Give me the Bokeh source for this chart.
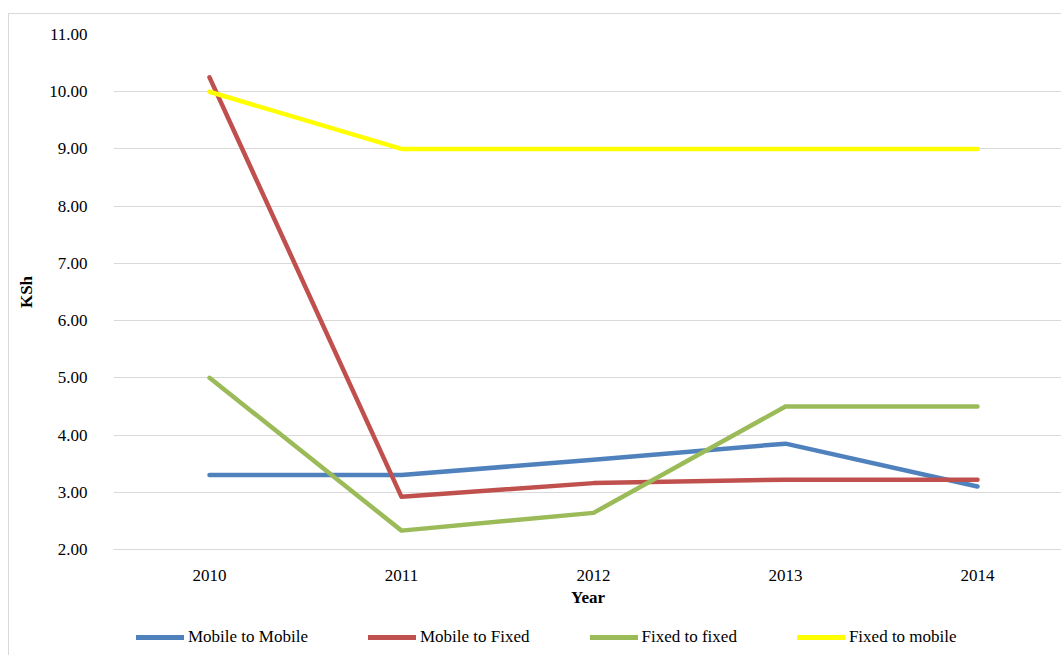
from bokeh.plotting import figure
from bokeh.layouts import column
from bokeh.models import FixedTicker, PrintfTickFormatter, Range1d, Legend, LegendItem
from bokeh.embed import file_html
from bokeh.resources import INLINE

years = [2010, 2011, 2012, 2013, 2014]
mobile_to_mobile = [3.30, 3.30, 3.57, 3.85, 3.10]
mobile_to_fixed = [10.25, 2.92, 3.16, 3.22, 3.22]
fixed_to_fixed = [5.00, 2.33, 2.64, 4.50, 4.50]
fixed_to_mobile = [10.00, 9.00, 9.00, 9.00, 9.00]
series_names = ["Mobile to Mobile", "Mobile to Fixed", "Fixed to fixed", "Fixed to mobile"]
series_values = [mobile_to_mobile, mobile_to_fixed, fixed_to_fixed, fixed_to_mobile]
colors = ["#4F81BD", "#C0504D", "#9BBB59", "#FFFF00"]
y_ticks = [2, 3, 4, 5, 6, 7, 8, 9, 10, 11]

FONT = "Liberation Serif"

p = figure(width=1053, height=600, output_backend="svg", toolbar_location=None,
           x_range=Range1d(2009.5, 2009.5 + 949 / 192), y_range=Range1d(2, 11),
           min_border_left=104, min_border_top=20, min_border_bottom=65, min_border_right=0)
p.outline_line_color = None
p.background_fill_color = "white"
p.border_fill_color = "white"

for name, vals, c in zip(series_names, series_values, colors):
    p.line(years, vals, line_color=c, line_width=4.5, line_cap="round", line_join="round")

p.xgrid.grid_line_color = None
p.ygrid.grid_line_color = "#D9D9D9"
p.ygrid.grid_line_width = 1

p.yaxis.ticker = FixedTicker(ticks=y_ticks)
p.yaxis.formatter = PrintfTickFormatter(format="%.2f")
p.xaxis.ticker = FixedTicker(ticks=years)

for ax in (p.xaxis[0], p.yaxis[0]):
    ax.axis_line_color = None
    ax.major_tick_line_color = None
    ax.minor_tick_line_color = None
    ax.major_label_text_font = FONT
    ax.major_label_text_font_size = "17px"
    ax.major_label_text_color = "#000000"
    ax.axis_label_text_font = FONT
    ax.axis_label_text_font_size = "17px"
    ax.axis_label_text_font_style = "bold"
    ax.axis_label_text_color = "#000000"

p.xaxis.axis_line_color = "#D9D9D9"
p.xaxis.axis_line_width = 1

p.yaxis.axis_label = "KSh"
p.yaxis.major_label_standoff = 20
p.yaxis.axis_label_standoff = 10
p.xaxis.axis_label = "Year"
p.xaxis.major_label_standoff = 14
p.xaxis.axis_label_standoff = 4

# Legend strip below the chart
pl = figure(width=1053, height=42, output_backend="svg", toolbar_location=None,
            x_range=Range1d(0, 1), y_range=Range1d(0, 1),
            min_border_left=104, min_border_right=0, min_border_top=0, min_border_bottom=0)
pl.axis.visible = False
pl.grid.visible = False
pl.outline_line_color = None
pl.background_fill_color = "white"
pl.border_fill_color = "white"
items = []
for name, c in zip(series_names, colors):
    r = pl.line([-10, -9], [-10, -9], line_color=c, line_width=5, line_cap="round")
    items.append(LegendItem(label=name, renderers=[r]))
legend = Legend(items=items, orientation="horizontal", location=(23, 9),
                padding=0, margin=0, spacing=60, glyph_width=48, glyph_height=20,
                label_height=20, label_standoff=4, border_line_color=None,
                background_fill_alpha=0,
                label_text_font=FONT, label_text_font_size="17px", label_text_color="#000000")
pl.add_layout(legend)

layout = column(p, pl, spacing=0, margin=(13, 0, 0, 8),
                styles={"border-left": "1px solid #D9D9D9", "border-top": "1px solid #D9D9D9"})

open("out.html", "w").write(file_html(layout, INLINE))
